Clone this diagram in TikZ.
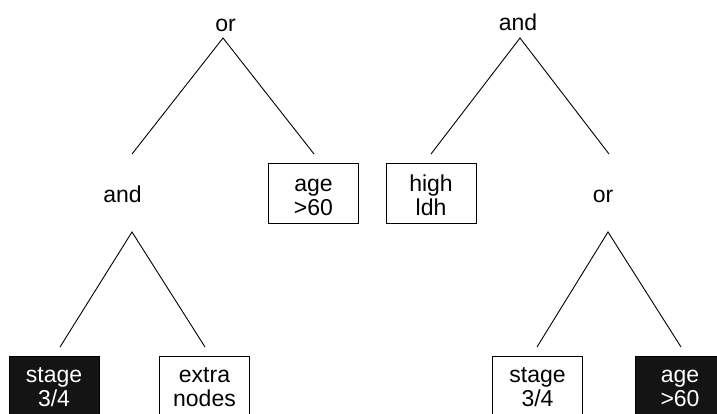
\documentclass[tikz,border=0pt]{standalone}
\usepackage{fontspec}
\setmainfont{Liberation Sans}
\tikzset{
  lbl/.style={font=\fontsize{23}{24}\selectfont, inner sep=0pt, anchor=base},
  leaf/.style={draw=black, line width=0.9pt, minimum width=90pt, minimum height=60pt, inner sep=0pt, anchor=north},
  darkleaf/.style={leaf, fill=black!92},
  boxtext/.style={font=\fontsize{23}{24}\selectfont, align=center, inner sep=0pt, anchor=base},
  edge/.style={line width=0.9pt}
}
\begin{document}
\begin{tikzpicture}[x=1pt,y=-1pt]
\useasboundingbox (0,0) rectangle (717,414);
\clip (0,0) rectangle (717,414);

% ---------- left tree ----------
\node[lbl] (lor) at (225.5,32) {or};
\node[lbl] (land) at (122.5,203) {and};
\node[leaf] (lage) at (313.5,163) {};
\node[boxtext] (lagetxt) at (313.5,215.5) {age\\>60};
\node[darkleaf] (lstage) at (54,356) {};
\node[boxtext, text=white] (lstagetxt) at (54,406) {stage\\3/4};
\node[leaf] (lextra) at (204.5,356) {};
\node[boxtext] (lextratxt) at (204.5,406) {extra\\nodes};

\coordinate (lorA) at (223,38);
\coordinate (lorL) at (132,154);
\coordinate (lorR) at (314,154);
\coordinate (landA) at (132,232);
\coordinate (landL) at (60,347);
\coordinate (landR) at (205,347);
\draw[edge] (lorL) -- (lorA) -- (lorR);
\draw[edge] (landL) -- (landA) -- (landR);

% ---------- right tree ----------
\node[lbl] (rand) at (518,31) {and};
\node[lbl] (ror) at (603,203) {or};
\node[leaf] (rhigh) at (431,163) {};
\node[boxtext] (rhightxt) at (431,215.5) {high\\ldh};
\node[leaf] (rstage) at (537.5,356) {};
\node[boxtext] (rstagetxt) at (537.5,406) {stage\\3/4};
\node[darkleaf] (rage) at (680,356) {};
\node[boxtext, text=white] (ragetxt) at (680,406) {age\\>60};

\coordinate (randA) at (520,38);
\coordinate (randL) at (431,154);
\coordinate (randR) at (609,154);
\coordinate (rorA) at (608,232);
\coordinate (rorL) at (537,347);
\coordinate (rorR) at (681,347);
\draw[edge] (randL) -- (randA) -- (randR);
\draw[edge] (rorL) -- (rorA) -- (rorR);
\end{tikzpicture}
\end{document}
